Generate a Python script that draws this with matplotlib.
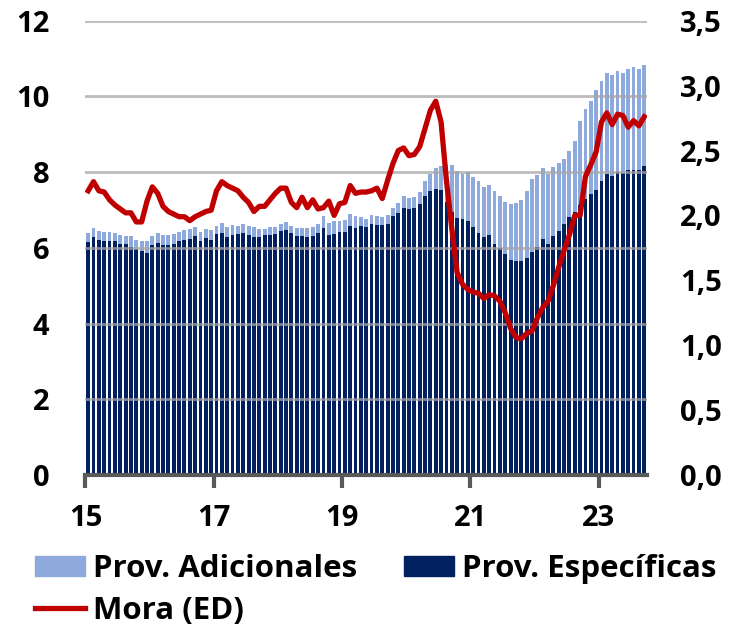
import numpy as np
import matplotlib.pyplot as plt
from matplotlib.patches import Patch
from matplotlib.lines import Line2D

# etiquetas del eje x (años, cada dos)
anios = ['15', '17', '19', '21', '23']

# provisiones totales (específicas + adicionales), mensual ene-15 a sep-23
total = [6.38, 6.52, 6.45, 6.42, 6.42, 6.39, 6.34, 6.32, 6.31, 6.21, 6.19, 6.19,
         6.32, 6.39, 6.33, 6.33, 6.36, 6.42, 6.46, 6.49, 6.55, 6.43, 6.50, 6.46,
         6.58, 6.67, 6.55, 6.61, 6.58, 6.62, 6.58, 6.55, 6.50, 6.50, 6.55, 6.56,
         6.64, 6.68, 6.57, 6.53, 6.53, 6.52, 6.56, 6.62, 6.85, 6.67, 6.71, 6.71,
         6.73, 6.89, 6.83, 6.82, 6.75, 6.87, 6.84, 6.82, 6.87, 7.04, 7.18, 7.36,
         7.32, 7.35, 7.48, 7.76, 7.96, 8.10, 8.16, 8.18, 8.18, 8.04, 7.94, 8.01,
         7.88, 7.76, 7.61, 7.65, 7.50, 7.37, 7.21, 7.15, 7.18, 7.26, 7.50, 7.81,
         7.92, 8.10, 7.96, 8.13, 8.25, 8.36, 8.55, 8.83, 9.34, 9.67, 9.89, 10.18,
         10.41, 10.61, 10.57, 10.66, 10.62, 10.73, 10.79, 10.73, 10.83]

# provisiones específicas
especificas = [6.16, 6.29, 6.22, 6.19, 6.18, 6.17, 6.11, 6.09, 6.03, 5.97, 5.92, 5.87,
               6.08, 6.13, 6.08, 6.08, 6.11, 6.17, 6.21, 6.24, 6.31, 6.18, 6.25, 6.20,
               6.36, 6.40, 6.29, 6.35, 6.36, 6.40, 6.35, 6.30, 6.30, 6.35, 6.34, 6.37,
               6.45, 6.47, 6.38, 6.32, 6.32, 6.30, 6.32, 6.39, 6.53, 6.34, 6.37, 6.42,
               6.42, 6.58, 6.53, 6.58, 6.55, 6.64, 6.61, 6.61, 6.64, 6.84, 6.93, 7.04,
               7.02, 7.04, 7.17, 7.37, 7.50, 7.56, 7.54, 7.22, 6.95, 6.80, 6.75, 6.71,
               6.56, 6.40, 6.30, 6.34, 6.10, 5.99, 5.83, 5.68, 5.66, 5.66, 5.72, 5.89,
               6.03, 6.23, 6.11, 6.32, 6.45, 6.64, 6.82, 6.96, 7.12, 7.30, 7.43, 7.53,
               7.76, 7.96, 7.91, 8.00, 7.99, 8.06, 8.06, 8.06, 8.16]

# mora (eje derecho)
mora = [2.19, 2.26, 2.19, 2.18, 2.12, 2.08, 2.05, 2.02, 2.02, 1.95, 1.95, 2.11,
        2.22, 2.17, 2.07, 2.03, 2.01, 1.99, 1.99, 1.96, 1.99, 2.01, 2.03, 2.04,
        2.19, 2.26, 2.23, 2.21, 2.19, 2.14, 2.10, 2.03, 2.07, 2.07, 2.12, 2.17,
        2.21, 2.21, 2.10, 2.06, 2.14, 2.06, 2.12, 2.05, 2.06, 2.11, 2.00, 2.09,
        2.10, 2.23, 2.17, 2.18, 2.18, 2.19, 2.21, 2.13, 2.27, 2.40, 2.50, 2.52,
        2.46, 2.47, 2.53, 2.67, 2.81, 2.88, 2.72, 2.27, 1.90, 1.56, 1.47, 1.43,
        1.41, 1.40, 1.36, 1.39, 1.38, 1.34, 1.25, 1.13, 1.06, 1.05, 1.09, 1.11,
        1.21, 1.29, 1.34, 1.46, 1.60, 1.73, 1.85, 2.00, 2.00, 2.30, 2.39, 2.49,
        2.72, 2.79, 2.70, 2.78, 2.77, 2.68, 2.73, 2.69, 2.76]

adicionales = [t - e for t, e in zip(total, especificas)]
x = np.arange(len(total))

plt.rcParams['font.family'] = ['Open Sans', 'DejaVu Sans']
plt.rcParams['font.weight'] = 'bold'
fs = 21

azul = '#002060'
celeste = '#8EA9DB'
rojo = '#C00000'
gris = '#595959'

fig = plt.figure(figsize=(7.32, 6.28), dpi=100)
ax = fig.add_axes([0.1168, 0.2436, 0.767, 0.7234])

ax.bar(x, especificas, width=0.72, color=azul, zorder=2)
ax.bar(x, adicionales, bottom=especificas, width=0.72, color=celeste, zorder=2)
for g in range(2, 13, 2):
    ax.axhline(g, color='#A6A6A6', lw=2, alpha=0.75, zorder=3)

ax.set_xlim(-0.5, len(total) - 0.5)
ax.set_ylim(0, 12)
ax.set_yticks(range(0, 13, 2))
ax.set_xticks([-0.5, 23.5, 47.5, 71.5, 95.5])
ax.set_xticklabels(anios)
for s in ['left', 'right', 'top']:
    ax.spines[s].set_visible(False)
ax.spines['bottom'].set_color(gris)
ax.spines['bottom'].set_linewidth(3)
ax.spines['bottom'].set_zorder(4)
ax.tick_params(axis='x', colors=gris, width=3, length=9, pad=12, labelsize=fs, labelcolor='black')
ax.tick_params(axis='y', length=0, pad=26, labelsize=fs)

ax2 = ax.twinx()
ax2.plot(x, mora, color=rojo, lw=3.8, zorder=5)
ax2.set_ylim(0, 3.5)
ax2.set_yticks(np.arange(0, 3.6, 0.5))
ax2.set_yticklabels([f'{v:.1f}'.replace('.', ',') for v in np.arange(0, 3.6, 0.5)])
for s in ax2.spines.values():
    s.set_visible(False)
ax2.tick_params(axis='y', length=0, pad=24, labelsize=fs)

handles = [Patch(color=celeste), Line2D([], [], color=rojo, lw=3.8), Patch(color=azul)]
labels = ['Prov. Adicionales', 'Mora (ED)', 'Prov. Específicas']
fig.legend(handles, labels, loc='upper left', bbox_to_anchor=(35 / 732, 1 - 554 / 628),
           ncol=2, frameon=False, fontsize=22.5, borderpad=0, borderaxespad=0,
           handlelength=1.6, handleheight=0.62, handletextpad=0.25,
           columnspacing=1.5, labelspacing=0.38)

fig.savefig('out.png', dpi=100)
